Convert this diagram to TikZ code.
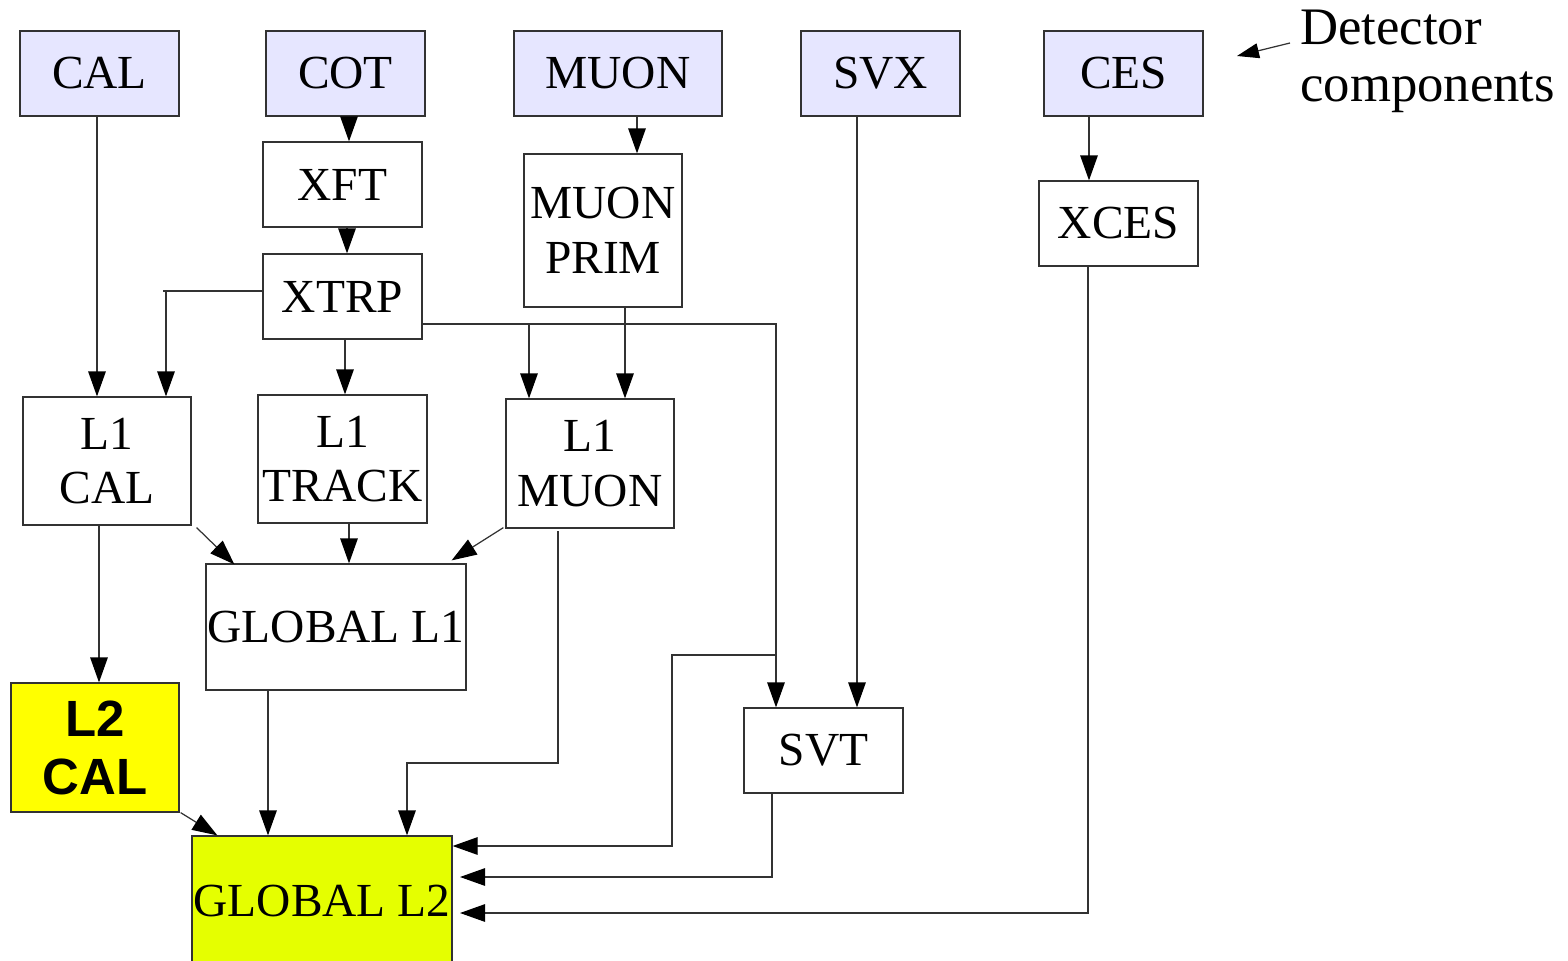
\documentclass[tikz,border=0pt]{standalone}
\usepackage{fontspec}
\setmainfont{Liberation Serif}
\newfontfamily\labsans{Liberation Sans}
\usetikzlibrary{arrows.meta,calc}
\definecolor{detfill}{RGB}{230,230,255}
\definecolor{ltwoyel}{RGB}{255,255,0}
\definecolor{gltwo}{RGB}{229,255,0}
\definecolor{edge}{RGB}{50,50,50}

\begin{document}
\begin{tikzpicture}[x=0.02cm,y=-0.02cm,
  box/.style={draw=edge, line width=0.7pt, inner sep=0pt, align=center,
              font=\fontsize{27}{31}\selectfont},
  detbox/.style={box, fill=detfill},
  wh/.style 2 args={minimum width=#1*0.02cm, minimum height=#2*0.02cm},
  ln/.style={draw=edge, line width=0.7pt},
  arr/.style={ln, -{Triangle[length=0.5cm,width=0.35cm,color=black,fill=black]}},
  smallarr/.style={ln, -{Triangle[length=0.44cm,width=0.3cm,color=black,fill=black]}}]

\useasboundingbox (0,0) rectangle (1568,960);

% detector components
\node[detbox, wh={159}{85}] (cal)   at (99.5,73.5)  {CAL};
\node[detbox, wh={159}{85}] (cot)   at (345.5,73.5) {COT};
\node[detbox, wh={208}{85}] (muon)  at (618,73.5)   {MUON};
\node[detbox, wh={159}{85}] (svx)   at (880.5,73.5) {SVX};
\node[detbox, wh={159}{85}] (ces)   at (1123.5,73.5) {CES};

% front-end processors
\node[box, wh={159}{85}]  (xft)   at (342.5,184.5) {XFT};
\node[box, wh={159}{85}]  (xtrp)  at (342.5,296.5) {XTRP};
\node[box, wh={158}{153}] (mprim) at (603,230.5)   {MUON\\PRIM};
\node[box, wh={159}{85}]  (xces)  at (1118.5,223.5) {XCES};

% level 1
\node[box, wh={168}{128}] (l1cal)  at (107,461)   {L1\\CAL};
\node[box, wh={169}{128}] (l1trk)  at (342.5,459) {L1\\TRACK};
\node[box, wh={168}{129}] (l1muon) at (590,463.5) {L1\\MUON};
\node[box, wh={260}{126}] (gl1)    at (336,627)   {GLOBAL L1};

% level 2
\node[box, wh={168}{129}, fill=ltwoyel,
      font=\labsans\bfseries\fontsize{29}{33}\selectfont] (l2cal) at (95,747.5) {L2\\CAL};
\node[box, wh={159}{85}]  (svt) at (823.5,750.5) {SVT};
\node[box, wh={260}{130}, fill=gltwo] (gl2) at (322,901) {GLOBAL L2};

% legend
\node[anchor=north west, inner sep=0pt, align=left,
      font=\fontsize{30}{32.5}\selectfont] (legend) at (1300,10) {Detector\\components};
\coordinate (legtip) at (1237,56);
\draw[smallarr] ($(legend.north west)+(-10,33)$) -- (legtip);

% straight feeds
\draw[arr] (97,0 |- cal.south)    -- (97,0 |- l1cal.north);
\draw[arr] (349,0 |- cot.south)   -- (349,0 |- xft.north);
\draw[arr] (347,0 |- xft.south)   -- (347,0 |- xtrp.north);
\draw[arr] (637,0 |- muon.south)  -- (637,0 |- mprim.north);
\draw[arr] (1089,0 |- ces.south)  -- (1089,0 |- xces.north);
\draw[arr] (345,0 |- xtrp.south)  -- (345,0 |- l1trk.north);
\draw[arr] (625,0 |- mprim.south) -- (625,0 |- l1muon.north);
\draw[arr] (857,0 |- svx.south)   -- (857,0 |- svt.north);
\draw[arr] (349,0 |- l1trk.south) -- (349,0 |- gl1.north);
\draw[arr] (99,0 |- l1cal.south)  -- (99,0 |- l2cal.north);
\draw[arr] (268,0 |- gl1.south)   -- (268,0 |- gl2.north);

% XTRP branches
\draw[arr] (xtrp.west |- 0,291) -- (163,291) -- (166,291) -- (166,0 |- l1cal.north);
\draw[arr] (xtrp.east |- 0,324) -- (776,324) -- (776,0 |- svt.north);
\coordinate (tap) at (529,324);
\draw[arr] (tap) -- (529,0 |- l1muon.north);

% diagonal feeds
\draw[arr] ($(l1cal.south east)+(5,2)$)   -- ($(gl1.north west)+(29,1)$);
\draw[arr] ($(l1muon.south west)+(-2,-1)$) -- ($(gl1.north east)+(-15,-3)$);
\draw[arr] ($(l2cal.south east)+(1,0)$)   -- ($(gl2.north west)+(26,0)$);

% inputs into GLOBAL L2
\draw[arr] (558,531) -- (558,763) -- (407,763) -- (407,0 |- gl2.north);
\coordinate (split) at (776,655);
\draw[arr] (split) -- (672,655) -- (672,846) -- (gl2.east |- 0,846);
\draw[arr] (772,0 |- svt.south) -- (772,877) -- (460,877);
\draw[arr] (1088,0 |- xces.south) -- (1088,913) -- (460,913);

\end{tikzpicture}
\end{document}
